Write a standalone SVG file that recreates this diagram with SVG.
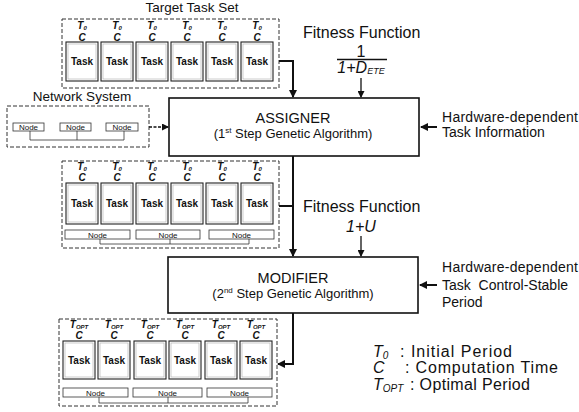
<svg xmlns="http://www.w3.org/2000/svg" width="579" height="412" viewBox="0 0 579 412">
<defs>
<style>
text{font-family:"Liberation Sans",Arial,sans-serif;fill:#111}
.dash{fill:none;stroke:#333;stroke-width:1;stroke-dasharray:4 2}
.task{fill:#fff;stroke:#222;stroke-width:1.1}
.tin{fill:none;stroke:#aaa;stroke-width:0.6}
.tk{font-size:10px;font-weight:bold;text-anchor:middle}
.lb{font-size:10px;font-weight:bold;font-style:italic;text-anchor:middle}
.sub{font-size:6px}
.node{fill:#fff;stroke:#333;stroke-width:0.8}
.nl{font-size:8px;fill:#444;text-anchor:middle}
.bus{fill:none;stroke:#333;stroke-width:0.8}
.box{fill:#fff;stroke:#111;stroke-width:1.6}
.thick{fill:none;stroke:#111;stroke-width:2}
.thin{fill:none;stroke:#111;stroke-width:1.3}
.dot{fill:none;stroke:#111;stroke-width:1.3;stroke-dasharray:3 1.5}
.big{font-size:16px}
.mid{font-size:14px}
.leg{font-size:16px}
</style>
<marker id="ah" markerWidth="8" markerHeight="8" refX="7" refY="4" orient="auto" markerUnits="userSpaceOnUse"><path d="M0,0 L8,4 L0,8 z" fill="#111"/></marker>
<marker id="ahs" markerWidth="7" markerHeight="7" refX="6" refY="3.5" orient="auto" markerUnits="userSpaceOnUse"><path d="M0,0 L7,3.5 L0,7 z" fill="#111"/></marker>
</defs>

<g id="target-task-set">
<text x="192" y="12" font-size="13.5" text-anchor="middle">Target Task Set</text>
<rect class="dash" x="62" y="19" width="217" height="69"/>
<g class="lb">
<text x="82" y="29">T<tspan class="sub" dy="1">0</tspan></text>
<text x="117" y="29">T<tspan class="sub" dy="1">0</tspan></text>
<text x="152" y="29">T<tspan class="sub" dy="1">0</tspan></text>
<text x="187" y="29">T<tspan class="sub" dy="1">0</tspan></text>
<text x="222" y="29">T<tspan class="sub" dy="1">0</tspan></text>
<text x="257" y="29">T<tspan class="sub" dy="1">0</tspan></text>
<text x="82" y="41">C</text><text x="117" y="41">C</text><text x="152" y="41">C</text><text x="187" y="41">C</text><text x="222" y="41">C</text><text x="257" y="41">C</text>
</g>
<rect class="task" x="66" y="42" width="32" height="39"/><rect class="tin" x="68" y="44" width="28" height="35"/>
<rect class="task" x="101" y="42" width="32" height="39"/><rect class="tin" x="103" y="44" width="28" height="35"/>
<rect class="task" x="136" y="42" width="32" height="39"/><rect class="tin" x="138" y="44" width="28" height="35"/>
<rect class="task" x="171" y="42" width="32" height="39"/><rect class="tin" x="173" y="44" width="28" height="35"/>
<rect class="task" x="206" y="42" width="32" height="39"/><rect class="tin" x="208" y="44" width="28" height="35"/>
<rect class="task" x="241" y="42" width="32" height="39"/><rect class="tin" x="243" y="44" width="28" height="35"/>
<g class="tk">
<text x="82" y="65">Task</text><text x="117" y="65">Task</text><text x="152" y="65">Task</text><text x="187" y="65">Task</text><text x="222" y="65">Task</text><text x="257" y="65">Task</text>
</g>
</g>

<g id="network-system">
<text x="82" y="101" font-size="13.5" text-anchor="middle">Network System</text>
<rect class="dash" x="7" y="106" width="142" height="41"/>
<rect class="node" x="13" y="123" width="31" height="8"/>
<rect class="node" x="60" y="123" width="31" height="8"/>
<rect class="node" x="106" y="123" width="32" height="8"/>
<g class="nl"><text x="28.5" y="130">Node</text><text x="75.5" y="130">Node</text><text x="122" y="130">Node</text></g>
<path class="bus" d="M30,131 V140 H124 V131 M77,131 V140"/>
</g>

<g id="assigner">
<rect class="box" x="169" y="98" width="250" height="58"/>
<text x="293" y="123" font-size="14.5" text-anchor="middle">ASSIGNER</text>
<text x="293" y="138" font-size="13" text-anchor="middle">(1<tspan font-size="8" dy="-5">st</tspan><tspan dy="5"> Step Genetic Algorithm)</tspan></text>
</g>

<g id="fitness-1">
<text x="303" y="38" class="big">Fitness Function</text>
<text x="361" y="57" class="big" text-anchor="middle">1</text>
<path class="thin" d="M337,59.5 H387"/>
<text x="361" y="73" class="big" font-style="italic" text-anchor="middle">1+D<tspan font-size="9" dy="1">ETE</tspan></text>
</g>

<g id="hw-info-1">
<text x="442" y="122" class="mid" textLength="136" lengthAdjust="spacing">Hardware-dependent</text>
<text x="442" y="137" class="mid">Task Information</text>
</g>

<g id="mid-set">
<rect class="dash" x="62" y="161" width="217" height="87"/>
<g class="lb">
<text x="82" y="170">T<tspan class="sub" dy="1">0</tspan></text>
<text x="117" y="170">T<tspan class="sub" dy="1">0</tspan></text>
<text x="152" y="170">T<tspan class="sub" dy="1">0</tspan></text>
<text x="187" y="170">T<tspan class="sub" dy="1">0</tspan></text>
<text x="222" y="170">T<tspan class="sub" dy="1">0</tspan></text>
<text x="257" y="170">T<tspan class="sub" dy="1">0</tspan></text>
<text x="82" y="181">C</text><text x="117" y="181">C</text><text x="152" y="181">C</text><text x="187" y="181">C</text><text x="222" y="181">C</text><text x="257" y="181">C</text>
</g>
<rect class="task" x="66" y="183" width="32" height="41"/><rect class="tin" x="68" y="185" width="28" height="37"/>
<rect class="task" x="101" y="183" width="32" height="41"/><rect class="tin" x="103" y="185" width="28" height="37"/>
<rect class="task" x="136" y="183" width="32" height="41"/><rect class="tin" x="138" y="185" width="28" height="37"/>
<rect class="task" x="171" y="183" width="32" height="41"/><rect class="tin" x="173" y="185" width="28" height="37"/>
<rect class="task" x="206" y="183" width="32" height="41"/><rect class="tin" x="208" y="185" width="28" height="37"/>
<rect class="task" x="241" y="183" width="32" height="41"/><rect class="tin" x="243" y="185" width="28" height="37"/>
<g class="tk">
<text x="82" y="207">Task</text><text x="117" y="207">Task</text><text x="152" y="207">Task</text><text x="187" y="207">Task</text><text x="222" y="207">Task</text><text x="257" y="207">Task</text>
</g>
<rect class="node" x="65" y="230" width="65" height="9"/>
<rect class="node" x="136" y="230" width="64" height="9"/>
<rect class="node" x="209" y="230" width="65" height="9"/>
<g class="nl"><text x="97.5" y="237.5">Node</text><text x="168" y="237.5">Node</text><text x="241.5" y="237.5">Node</text></g>
<path class="bus" d="M100,239 V244 H249 V239 M170,239 V244"/>
</g>

<g id="fitness-2">
<text x="303" y="212" class="big">Fitness Function</text>
<text x="361" y="232" class="big" font-style="italic" text-anchor="middle">1+U</text>
</g>

<g id="modifier">
<rect class="box" x="168" y="257" width="250" height="56"/>
<text x="293" y="283" font-size="14.5" text-anchor="middle">MODIFIER</text>
<text x="293" y="298" font-size="13" text-anchor="middle">(2<tspan font-size="8" dy="-5">nd</tspan><tspan dy="5"> Step Genetic Algorithm)</tspan></text>
</g>

<g id="hw-info-2">
<text x="442" y="272" class="mid" textLength="136" lengthAdjust="spacing">Hardware-dependent</text>
<text x="442" y="290" class="mid" xml:space="preserve">Task  Control-Stable</text>
<text x="442" y="307" class="mid">Period</text>
</g>

<g id="output-set">
<rect class="dash" x="59" y="319" width="218" height="87"/>
<g class="lb">
<text x="79" y="328">T<tspan class="sub" dy="1">OPT</tspan></text>
<text x="114" y="328">T<tspan class="sub" dy="1">OPT</tspan></text>
<text x="150" y="328">T<tspan class="sub" dy="1">OPT</tspan></text>
<text x="185" y="328">T<tspan class="sub" dy="1">OPT</tspan></text>
<text x="221" y="328">T<tspan class="sub" dy="1">OPT</tspan></text>
<text x="256" y="328">T<tspan class="sub" dy="1">OPT</tspan></text>
<text x="79" y="339">C</text><text x="114" y="339">C</text><text x="150" y="339">C</text><text x="185" y="339">C</text><text x="221" y="339">C</text><text x="256" y="339">C</text>
</g>
<rect class="task" x="63" y="341" width="32" height="38"/><rect class="tin" x="65" y="343" width="28" height="34"/>
<rect class="task" x="98" y="341" width="32" height="38"/><rect class="tin" x="100" y="343" width="28" height="34"/>
<rect class="task" x="134" y="341" width="32" height="38"/><rect class="tin" x="136" y="343" width="28" height="34"/>
<rect class="task" x="169" y="341" width="32" height="38"/><rect class="tin" x="171" y="343" width="28" height="34"/>
<rect class="task" x="205" y="341" width="32" height="38"/><rect class="tin" x="207" y="343" width="28" height="34"/>
<rect class="task" x="240" y="341" width="32" height="38"/><rect class="tin" x="242" y="343" width="28" height="34"/>
<g class="tk">
<text x="79" y="364">Task</text><text x="114" y="364">Task</text><text x="150" y="364">Task</text><text x="185" y="364">Task</text><text x="221" y="364">Task</text><text x="256" y="364">Task</text>
</g>
<rect class="node" x="63" y="388" width="65" height="9"/>
<rect class="node" x="133" y="388" width="69" height="9"/>
<rect class="node" x="207" y="388" width="65" height="9"/>
<g class="nl"><text x="95.5" y="395.5">Node</text><text x="167.5" y="395.5">Node</text><text x="239.5" y="395.5">Node</text></g>
<path class="bus" d="M99,397 V403 H248 V397 M168,397 V403"/>
</g>

<g id="legend">
<text x="373" y="357" class="leg" font-style="italic">T<tspan font-size="10" dy="2">0</tspan></text>
<text x="400" y="357" class="leg" textLength="112" lengthAdjust="spacing">: Initial Period</text>
<text x="373" y="373" class="leg" font-style="italic">C</text>
<text x="405" y="373" class="leg" textLength="153" lengthAdjust="spacing">: Computation Time</text>
<text x="373" y="390" class="leg" font-style="italic">T<tspan font-size="10" dy="2">OPT</tspan></text>
<text x="410" y="390" class="leg" textLength="120" lengthAdjust="spacing">: Optimal Period</text>
</g>

<g id="connectors">
<path class="thick" d="M279,61 H293 V97" marker-end="url(#ah)"/>
<path class="dot" d="M149,127 H168" marker-end="url(#ahs)"/>
<path class="thin" d="M361,78 V97" marker-end="url(#ahs)"/>
<path class="thick" d="M437,127 H421" marker-end="url(#ah)"/>
<path class="thick" d="M293,156 V256" marker-end="url(#ah)"/>
<path class="thick" d="M279,206 H293"/>
<path class="thin" d="M361,236 V256" marker-end="url(#ahs)"/>
<path class="thick" d="M437,285 H420" marker-end="url(#ah)"/>
<path class="thick" d="M293,313 V364 H278" marker-end="url(#ah)"/>
</g>
</svg>
